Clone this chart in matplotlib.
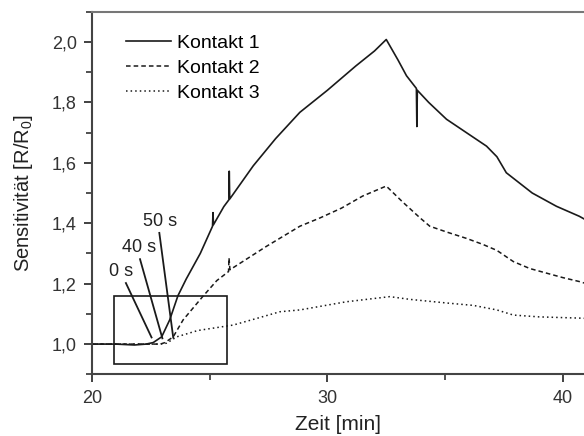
import numpy as np
import matplotlib
matplotlib.use('Agg')
import matplotlib.pyplot as plt
from matplotlib.patches import Rectangle
from matplotlib.ticker import MultipleLocator, FuncFormatter

plt.rcParams['font.family'] = ['Liberation Sans', 'DejaVu Sans']
plt.rcParams['mathtext.default'] = 'regular'

## DATA
t1 = [20.0, 21.0, 21.8, 22.3, 22.6, 22.96, 23.3, 23.65, 24.0, 24.6, 25.12, 25.14, 25.16,
      25.6, 25.82, 25.83, 25.85, 26.85, 27.8, 28.83, 30.0, 31.2, 32.0, 32.5,
      33.0, 33.36, 33.78, 33.8, 33.82, 34.3, 35.06, 35.9, 36.76, 37.2, 37.6,
      38.7, 39.73, 40.7, 41.0]
s1 = [1.0, 1.0, 0.997, 1.0, 1.005, 1.024, 1.08, 1.16, 1.215, 1.30, 1.39, 1.435, 1.395,
      1.455, 1.478, 1.572, 1.48, 1.59, 1.68, 1.767, 1.84, 1.92, 1.97, 2.008,
      1.94, 1.888, 1.846, 1.72, 1.84, 1.80, 1.744, 1.70, 1.655, 1.62, 1.567,
      1.50, 1.456, 1.423, 1.41]

t2 = [20.0, 22.9, 23.1, 23.45, 23.87, 24.7, 25.3, 25.8, 25.82, 25.86, 27.4, 28.83,
      29.7, 30.6, 31.5, 32.5, 33.2, 33.93, 34.35, 35.1, 35.9, 36.6, 37.2, 37.9,
      38.6, 39.3, 40.0, 40.7, 41.0]
s2 = [1.0, 1.0, 1.005, 1.024, 1.08, 1.157, 1.21, 1.24, 1.285, 1.246, 1.323, 1.39,
      1.418, 1.45, 1.49, 1.523, 1.47, 1.418, 1.39, 1.37, 1.35, 1.33, 1.31, 1.273,
      1.25, 1.235, 1.22, 1.207, 1.20]

t3 = [20.0, 22.9, 23.17, 23.6, 24.5, 26.0, 27.0, 27.98, 28.83, 30.8, 32.65,
      33.5, 35.06, 36.2, 37.2, 37.9, 39.0, 40.7, 41.0]
s3 = [1.0, 1.0, 1.003, 1.024, 1.045, 1.063, 1.085, 1.107, 1.113, 1.14, 1.157,
      1.148, 1.136, 1.128, 1.113, 1.096, 1.09, 1.086, 1.085]

labels = ['Kontakt 1', 'Kontakt 2', 'Kontakt 3']

# box around the onset and the marked times
box_x, box_y, box_w, box_h = 20.95, 0.933, 4.77, 0.227
marks = ['0 s', '40 s', '50 s']
mark_text = [(21.25, 1.239), (22.02, 1.32), (22.89, 1.407)]
mark_from = [(21.44, 1.202), (22.04, 1.281), (22.86, 1.368)]
mark_to = [(22.53, 1.022), (22.99, 1.019), (23.45, 1.022)]

## PLOT
fig = plt.figure(figsize=(5.84, 4.36), dpi=100)
ax = fig.add_axes([92/584, 1 - 374.3/436, 492/584, 362.6/436])

lc = '#1a1a1a'
ax.plot(t1, s1, color=lc, lw=1.2, ls='-', label=labels[0])
ax.plot(t2, s2, color=lc, lw=1.1, ls=(0, (3, 2)), label=labels[1])
ax.plot(t3, s3, color=lc, lw=1.1, ls=(0, (1, 2)), label=labels[2])

ax.add_patch(Rectangle((box_x, box_y), box_w, box_h, fill=False, ec=lc, lw=1.2))
for txt, p, a, b in zip(marks, mark_text, mark_from, mark_to):
    ax.text(p[0], p[1], txt, fontsize=13, color='#222222', ha='center', va='center')
    ax.plot([a[0], b[0]], [a[1], b[1]], color=lc, lw=1.3)

ax.set_xlim(20, 40.9)
ax.set_ylim(0.9, 2.1)
ax.xaxis.set_major_locator(MultipleLocator(10))
ax.xaxis.set_minor_locator(MultipleLocator(5))
ax.yaxis.set_major_locator(MultipleLocator(0.2))
ax.yaxis.set_minor_locator(MultipleLocator(0.1))
ax.yaxis.set_major_formatter(FuncFormatter(lambda v, p: ('%.1f' % v).replace('.', ',')))
ax.tick_params(which='major', length=6, width=1.3, colors='#333333', labelsize=13, pad=5)
ax.tick_params(which='minor', length=4, width=1.2, colors='#333333')

for s in ['left', 'bottom', 'top']:
    ax.spines[s].set_color('#444444')
    ax.spines[s].set_linewidth(1.5)
ax.spines['top'].set_color('#777777')
ax.spines['right'].set_visible(False)

ax.set_xlabel('Zeit [min]', fontsize=15, color='#222222', labelpad=6)
ax.set_ylabel('Sensitivität [R/R$_0$]', fontsize=14.5, color='#222222', labelpad=12)

ax.legend(loc='upper left', bbox_to_anchor=(0.07, 0.937), frameon=False, fontsize=14,
          handlelength=2.3, handletextpad=0.3, labelspacing=0.38, borderaxespad=0,
          borderpad=0)

fig.savefig('out.png', dpi=100)
